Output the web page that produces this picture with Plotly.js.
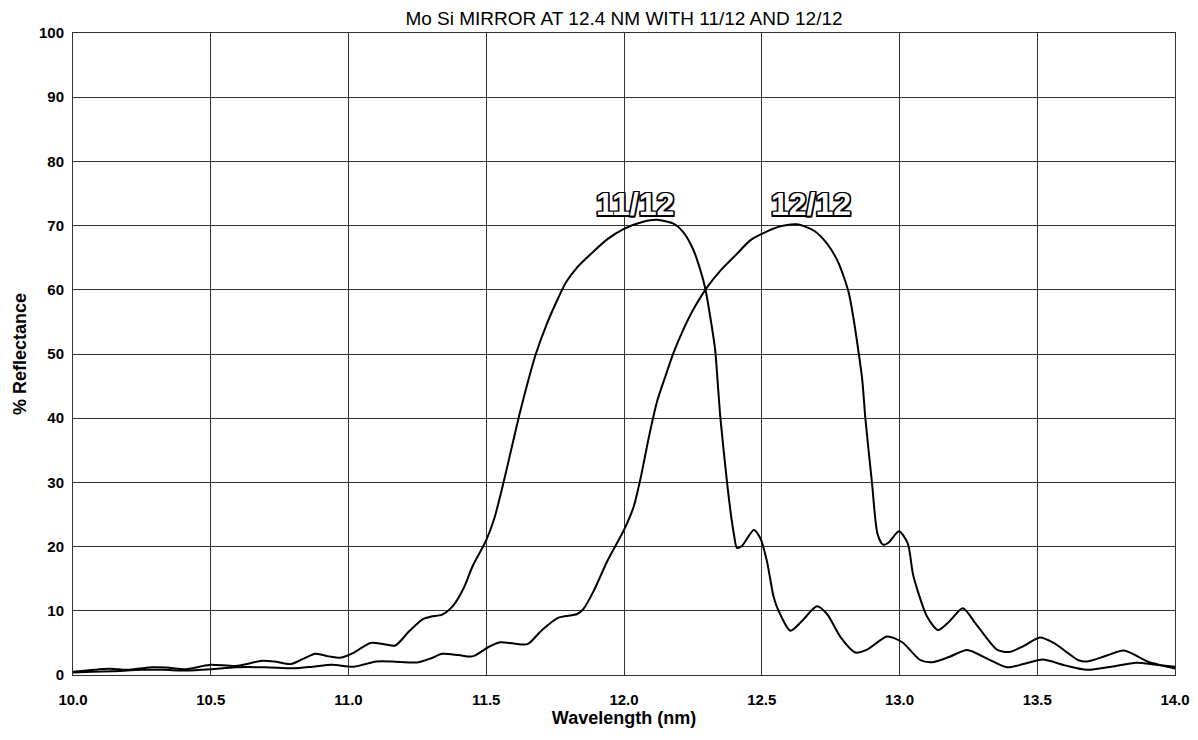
<!DOCTYPE html>
<html>
<head>
<meta charset="utf-8">
<script src="https://cdn.plot.ly/plotly-3.0.1.min.js"></script>
<style>
  html, body { margin: 0; padding: 0; background: #fff; }
  #chart { width: 1198px; height: 740px; }
</style>
</head>
<body>
<div id="chart"></div>
<script>
// 11/12 curve
const wl1112 = [10.00,10.05,10.11,10.15,10.19,10.24,10.29,10.34,10.41,10.46,10.50,10.59,10.64,10.68,10.73,10.79,10.835,10.88,10.93,10.97,11.02,11.08,11.13,11.17,11.22,11.27,11.30,11.34,11.38,11.42,11.45,11.50,11.53,11.56,11.59,11.62,11.65,11.68,11.72,11.76,11.79,11.83,11.88,11.94,12.00,12.07,12.12,12.18,12.215,12.25,12.277,12.295,12.313,12.331,12.337,12.350,12.374,12.386,12.398,12.410,12.428,12.471,12.495,12.519,12.543,12.561,12.604,12.646,12.70,12.737,12.786,12.84,12.884,12.955,13.01,13.076,13.12,13.18,13.246,13.32,13.39,13.45,13.52,13.60,13.68,13.77,13.86,13.93,14.00];
const r1112 = [0.5,0.7,0.95,0.95,0.8,1.0,1.2,1.15,0.9,1.3,1.6,1.4,1.8,2.2,2.1,1.7,2.5,3.3,2.9,2.7,3.5,5.0,4.8,4.6,6.8,8.7,9.1,9.4,10.8,13.7,16.9,21.0,24.5,29.5,35.0,40.5,45.5,50.0,54.7,58.6,61.2,63.5,65.6,67.9,69.5,70.6,70.9,70.3,69.0,66.4,63.1,60.2,55.8,50.6,47.4,40.0,30.0,25.7,22.2,19.8,20.1,22.6,21.3,17.7,12.2,10.0,6.9,8.4,10.7,9.5,5.9,3.5,4.0,6.0,5.1,2.3,2.0,2.8,3.9,2.5,1.2,1.7,2.4,1.5,0.8,1.3,1.9,1.6,1.3];

// 12/12 curve
const wl1212 = [10.00,10.07,10.145,10.25,10.33,10.41,10.50,10.59,10.70,10.80,10.87,10.94,11.02,11.10,11.16,11.25,11.30,11.34,11.40,11.45,11.51,11.55,11.60,11.65,11.70,11.76,11.83,11.853,11.89,11.94,12.00,12.035,12.06,12.09,12.12,12.15,12.18,12.21,12.25,12.30,12.35,12.41,12.458,12.50,12.56,12.628,12.69,12.737,12.774,12.798,12.816,12.834,12.852,12.865,12.876,12.90,12.92,12.94,12.96,12.998,13.03,13.05,13.10,13.14,13.18,13.23,13.28,13.355,13.40,13.45,13.51,13.56,13.65,13.68,13.75,13.815,13.90,13.95,14.00];
const r1212 = [0.4,0.5,0.6,0.8,0.8,0.7,0.9,1.2,1.2,1.05,1.3,1.6,1.3,2.1,2.1,1.95,2.6,3.3,3.1,2.9,4.4,5.1,4.9,4.8,6.9,8.9,9.5,10.3,13.1,17.8,22.6,26.2,30.6,37.0,42.6,46.5,50.2,53.3,56.8,60.3,63.0,65.6,67.7,68.7,69.8,70.2,69.2,67.2,64.6,62.0,59.5,55.3,50.1,45.9,40.0,30.0,22.0,20.3,20.6,22.4,20.5,15.5,9.1,7.0,8.3,10.4,7.8,3.9,3.6,4.5,5.85,5.0,2.3,2.1,3.0,3.8,2.1,1.5,1.0];

const curveLabels = ['11/12', '12/12'];
const labelX = [12.04, 12.68];
const labelY = [73.4, 73.4];

const xTicks = [10.0,10.5,11.0,11.5,12.0,12.5,13.0,13.5,14.0];
const yTicks = [0,10,20,30,40,50,60,70,80,90,100];

const FONT = '"Liberation Sans", Arial, sans-serif';
const lineStyle = {color: '#000', width: 2, shape: 'spline', smoothing: 0.7};

const traces = [
  {x: wl1112, y: r1112, type: 'scatter', mode: 'lines', line: lineStyle, name: curveLabels[0], hoverinfo: 'skip'},
  {x: wl1212, y: r1212, type: 'scatter', mode: 'lines', line: lineStyle, name: curveLabels[1], hoverinfo: 'skip'}
];

const outline = '-1.5px -1.5px 0 #000, 1.5px -1.5px 0 #000, -1.5px 1.5px 0 #000, 1.5px 1.5px 0 #000, 0 -1.5px 0 #000, 0 1.5px 0 #000, -1.5px 0 0 #000, 1.5px 0 0 #000';

const layout = {
  width: 1198, height: 740,
  margin: {l: 73, r: 23, t: 33, b: 65},
  paper_bgcolor: '#fff', plot_bgcolor: '#fff',
  showlegend: false,
  font: {family: FONT, color: '#000'},
  title: {
    text: 'Mo Si MIRROR AT 12.4 NM WITH 11/12 AND 12/12',
    font: {family: FONT, size: 19, color: '#000'},
    x: 0.5, xref: 'paper', y: 1 - 18/740, yref: 'container', yanchor: 'middle'
  },
  xaxis: {
    range: [10, 14], tickvals: xTicks, ticktext: xTicks.map(v => v.toFixed(1)),
    showgrid: true, gridcolor: '#333', gridwidth: 1,
    showline: true, linecolor: '#333', linewidth: 1, mirror: true,
    ticks: 'outside', ticklen: 11, tickcolor: 'rgba(0,0,0,0)',
    tickfont: {family: FONT, size: 15, weight: 'bold', color: '#000'},
    zeroline: false,
    title: {text: 'Wavelength (nm)', font: {family: FONT, size: 18, weight: 'bold', color: '#000'}, standoff: 2}
  },
  yaxis: {
    range: [0, 100], tickvals: yTicks,
    showgrid: true, gridcolor: '#333', gridwidth: 1,
    showline: true, linecolor: '#333', linewidth: 1, mirror: true,
    ticks: 'outside', ticklen: 5, tickcolor: 'rgba(0,0,0,0)',
    tickfont: {family: FONT, size: 15, weight: 'bold', color: '#000'},
    zeroline: false,
    title: {text: '% Reflectance', font: {family: FONT, size: 18, weight: 'bold', color: '#000'}, standoff: 7}
  },
  annotations: curveLabels.map((t, i) => ({
    text: t, x: labelX[i], y: labelY[i], xref: 'x', yref: 'y',
    showarrow: false, xanchor: 'center', yanchor: 'middle',
    font: {family: FONT, size: 32, weight: 'bold', color: '#fff', shadow: outline}
  }))
};

Plotly.newPlot('chart', traces, layout, {displayModeBar: false, staticPlot: true});
</script>
</body>
</html>
